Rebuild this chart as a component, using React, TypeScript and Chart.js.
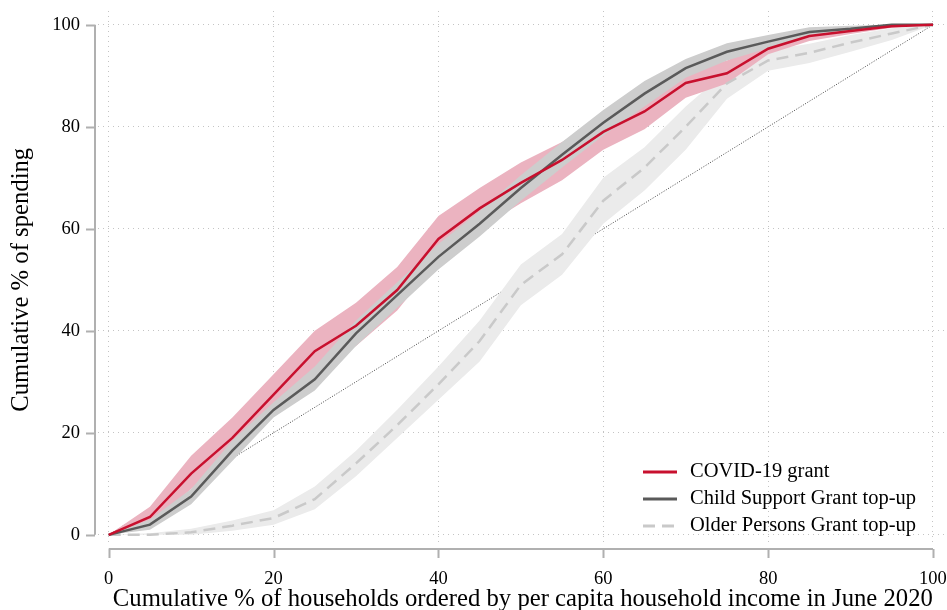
import React, { useEffect, useRef } from "react";
import { Chart, registerables } from "chart.js";

Chart.register(...registerables);

// Cumulative share of households (x) ordered by per capita income
const households = [0, 5, 10, 15, 20, 25, 30, 35, 40, 45, 50, 55, 60, 65, 70, 75, 80, 85, 90, 95, 100];

// COVID-19 grant: point estimate and confidence band
const covidMid = [0, 3.5, 12, 19, 27.5, 36, 41, 48, 58, 64, 69, 73.5, 79, 83, 88.6, 90.5, 95.3, 97.8, 98.8, 99.7, 100];
const covidHigh = [0, 5.5, 15.5, 23, 31.5, 40, 45.5, 52.5, 62.5, 68, 73, 77, 82, 86.5, 91, 93, 96.5, 98.8, 99.4, 100, 100];
const covidLow = [0, 2, 9, 15.5, 24, 32, 37, 44, 54, 60, 65, 69.5, 75.5, 79.5, 85.7, 88.5, 94.2, 96.8, 98.2, 99.4, 100];

// Child Support Grant top-up
const csgMid = [0, 2, 7.5, 16.5, 24.5, 30.5, 39.5, 47, 54.5, 61, 68, 74.5, 80.8, 86.5, 91.5, 94.7, 96.7, 98.6, 99.2, 100, 100];
const csgHigh = [0, 3, 9, 18.5, 26, 33, 42, 49.5, 57, 63.5, 70.5, 77, 83.3, 89, 93.3, 96.4, 98, 99.5, 99.8, 100, 100];
const csgLow = [0, 1, 6, 14.5, 23, 28.3, 37, 44.5, 52, 58.5, 65.5, 72, 78.3, 84, 89.6, 93, 95.4, 97.7, 98.6, 99.7, 100];

// Older Persons Grant top-up
const opgMid = [0, 0, 0.5, 1.8, 3.3, 7, 14, 21.5, 29.5, 38, 49, 55, 65.5, 72, 80, 88.5, 93, 94.5, 96.5, 98.3, 100];
const opgHigh = [0, 0.3, 1.2, 2.8, 4.8, 9.5, 16.5, 24.5, 33, 42, 53, 59, 70, 76, 84, 91, 95, 96.3, 98, 99.3, 100];
const opgLow = [0, 0, 0, 0.8, 2, 5, 11.5, 19, 26.5, 34, 45, 51, 61, 67.5, 75.5, 85.5, 91, 92.5, 94.7, 97, 100];

// Line of equality
const equality = [0, 100];

const xTicks = [0, 20, 40, 60, 80, 100];
const yTicks = [0, 20, 40, 60, 80, 100];

const legendItems = [
  { label: "COVID-19 grant", color: "#c8102e", dash: [] as number[] },
  { label: "Child Support Grant top-up", color: "#5a5a5a", dash: [] as number[] },
  { label: "Older Persons Grant top-up", color: "#c9c9c9", dash: [12, 7] },
];

const xTitle = "Cumulative % of households ordered by per capita household income in June 2020";
const yTitle = "Cumulative % of spending";

const SERIF = '"Liberation Serif", "Times New Roman", serif';
const TEXT = "#000000";
const AXIS = "#b0b0b0";

const pts = (ys: number[]) => ys.map((y, i) => ({ x: households[i], y }));

const band = (ys: number[], fill: string | false, color: string, order: number) => ({
  data: pts(ys),
  borderWidth: 0,
  borderColor: "transparent",
  backgroundColor: color,
  pointRadius: 0,
  fill: fill ? { target: fill } : false,
  order,
});

const frame = {
  id: "frame",
  afterDraw(chart: any) {
    const { ctx, scales } = chart;
    const xs = scales.x;
    const ys = scales.y;
    ctx.save();

    // y axis line and ticks
    const axX = chart.chartArea.left - 3;
    ctx.strokeStyle = AXIS;
    ctx.lineWidth = 2;
    ctx.beginPath();
    ctx.moveTo(axX, ys.getPixelForValue(100));
    ctx.lineTo(axX, ys.getPixelForValue(0));
    for (const t of yTicks) {
      const py = Math.round(ys.getPixelForValue(t)) + 0.5;
      ctx.moveTo(axX, py);
      ctx.lineTo(axX - 9, py);
    }
    ctx.stroke();

    // x axis line and ticks
    const axY = chart.chartArea.bottom + 6;
    ctx.beginPath();
    ctx.moveTo(xs.getPixelForValue(0), axY);
    ctx.lineTo(xs.getPixelForValue(100), axY);
    for (const t of xTicks) {
      const px = Math.round(xs.getPixelForValue(t)) + 0.5;
      ctx.moveTo(px, axY);
      ctx.lineTo(px, axY + 9);
    }
    ctx.stroke();

    // axis titles
    ctx.fillStyle = TEXT;
    ctx.font = `24.7px ${SERIF}`;
    ctx.textAlign = "center";
    ctx.textBaseline = "middle";
    ctx.fillText(xTitle, (xs.getPixelForValue(0) + xs.getPixelForValue(100)) / 2 + 2, 600);
    ctx.save();
    ctx.translate(22, (ys.getPixelForValue(0) + ys.getPixelForValue(100)) / 2);
    ctx.rotate(-Math.PI / 2);
    ctx.fillText(yTitle, 0, 0);
    ctx.restore();

    // legend
    ctx.font = `20.5px ${SERIF}`;
    ctx.textAlign = "left";
    legendItems.forEach((item, i) => {
      const cy = 472 + i * 27;
      ctx.strokeStyle = item.color;
      ctx.lineWidth = 3;
      ctx.setLineDash(item.dash);
      ctx.beginPath();
      ctx.moveTo(643, cy);
      ctx.lineTo(677, cy);
      ctx.stroke();
      ctx.setLineDash([]);
      ctx.fillStyle = TEXT;
      ctx.fillText(item.label, 690, cy);
    });
    ctx.restore();
  },
};

export default function App() {
  const ref = useRef<HTMLCanvasElement>(null);

  useEffect(() => {
    if (!ref.current) return;
    const chart = new Chart(ref.current, {
      type: "line",
      data: {
        datasets: [
          {
            data: pts(covidMid),
            borderColor: "#c8102e",
            borderWidth: 2.5,
            pointRadius: 0,
            fill: false,
            order: 1,
          },
          {
            data: pts(csgMid),
            borderColor: "#5a5a5a",
            borderWidth: 2.5,
            pointRadius: 0,
            fill: false,
            order: 2,
          },
          {
            data: pts(opgMid),
            borderColor: "#c9c9c9",
            borderWidth: 2.5,
            borderDash: [12, 7],
            pointRadius: 0,
            fill: false,
            order: 3,
          },
          band(csgHigh, "+1", "#cdcdcd", 4),
          band(csgLow, false, "#cdcdcd", 4),
          band(covidHigh, "+1", "#ebb3c0", 5),
          band(covidLow, false, "#ebb3c0", 5),
          band(opgHigh, "+1", "#ebebeb", 6),
          band(opgLow, false, "#ebebeb", 6),
          {
            data: [
              { x: 0, y: equality[0] },
              { x: 100, y: equality[1] },
            ],
            borderColor: "#444444",
            borderWidth: 1,
            borderDash: [1, 1.6],
            pointRadius: 0,
            fill: false,
            order: 7,
          },
        ] as any,
      },
      options: {
        animation: false,
        responsive: true,
        maintainAspectRatio: false,
        layout: { padding: { top: 11, right: 0, left: 0, bottom: 0 } },
        plugins: {
          legend: { display: false },
          tooltip: { enabled: false },
        },
        scales: {
          x: {
            type: "linear",
            min: -1.3,
            max: 101.7,
            afterBuildTicks: (s: any) => {
              s.ticks = xTicks.map((v) => ({ value: v }));
            },
            afterFit: (s: any) => {
              s.height = 67;
              s.paddingLeft = 0;
              s.paddingRight = 0;
              s.paddingTop = 0;
              s.paddingBottom = 0;
            },
            grid: { color: "#c4c4c4", lineWidth: 1, drawTicks: false },
            border: { display: false, dash: [1, 4] },
            ticks: {
              font: { family: SERIF, size: 18.5 },
              color: TEXT,
              padding: 25,
              maxRotation: 0,
            },
          },
          y: {
            type: "linear",
            min: -1.6,
            max: 102.7,
            afterBuildTicks: (s: any) => {
              s.ticks = yTicks.map((v) => ({ value: v }));
            },
            afterFit: (s: any) => {
              s.width = 98;
              s.paddingLeft = 0;
              s.paddingRight = 0;
              s.paddingTop = 0;
              s.paddingBottom = 0;
            },
            grid: { color: "#c4c4c4", lineWidth: 1, drawTicks: false },
            border: { display: false, dash: [1, 4] },
            ticks: {
              font: { family: SERIF, size: 18.5 },
              color: TEXT,
              padding: 18,
            },
          },
        },
      },
      plugins: [frame],
    });
    return () => chart.destroy();
  }, []);

  return (
    <div style={{ position: "fixed", left: 0, top: 0, width: 947, height: 610, background: "#fff" }}>
      <canvas ref={ref} />
    </div>
  );
}
